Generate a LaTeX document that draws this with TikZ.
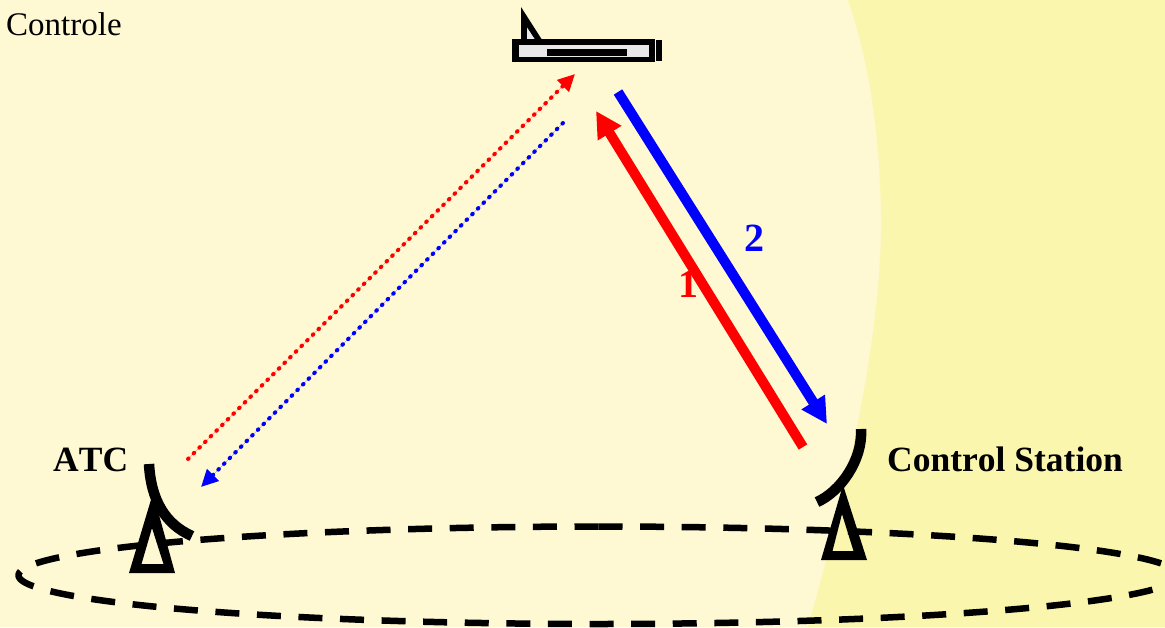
\documentclass[tikz,border=0pt]{standalone}
\usepackage{fontspec}
\setmainfont[Kerning=Off]{Liberation Serif}
\usetikzlibrary{arrows.meta}
\definecolor{bglight}{HTML}{FEF8D3}
\definecolor{bgdark}{HTML}{FBF6AD}
\definecolor{planegray}{HTML}{E8E8E8}
\tikzset{
  solidlink/.style={line width=10pt,-{Triangle[length=26pt,width=26pt]}},
  dotlink/.style={line width=4pt,line cap=round,dash pattern=on 0.8pt off 7.2pt},
  dottip/.style={-{Triangle[length=17pt,width=16pt]}},
  labelbold/.style={inner sep=0pt,anchor=base west,font=\fontsize{35.5pt}{40pt}\selectfont\bfseries},
  labelplain/.style={inner sep=0pt,anchor=base west,font=\fontsize{33pt}{38pt}\selectfont},
  numlabel/.style={inner sep=0pt,font=\fontsize{40pt}{44pt}\selectfont\bfseries},
  dish/.style={line width=10.5pt,draw=black},
  orbit/.style={line width=6.5pt,draw=black,dash pattern=on 24pt off 17.6pt}
}
\begin{document}
\begin{tikzpicture}[x=1pt,y=-1pt]
\useasboundingbox (0,0) rectangle (1165,627);
\begin{scope}
\clip (0,0) rectangle (1165,627);
\fill[bglight] (0,0) rectangle (1165,627);
\fill[bgdark] (848,0) .. controls (872,70) and (881,150) .. (881,225)
  .. controls (881,330) and (850,480) .. (808,627) -- (1165,627) -- (1165,0) -- cycle;
\draw[orbit] plot[domain=270:5,samples=400,smooth] ({598.5+580*cos(\x)},{575.25+48.75*sin(\x)});
\draw[orbit] plot[domain=270:360,samples=200,smooth] ({598.5+580*cos(\x)},{575.25+48.75*sin(\x)});
\end{scope}
% aircraft
\fill[black,even odd rule] (521,7) -- (541.5,39) -- (521,39) -- cycle (527,27.5) -- (534.5,39) -- (527,39) -- cycle;
\fill[planegray] (527,27.5) -- (534.5,39) -- (527,39) -- cycle;
\fill[black] (512,39) rectangle (655,62);
\fill[planegray] (518.5,45) rectangle (649,56.5);
\fill[black] (547,48.5) rectangle (627,55.5);
\fill[black] (656,39.5) rectangle (662,61);
% ATC antenna
\fill[black,even odd rule] (153,493) -- (175,573) -- (129,573) -- cycle (152,528) -- (163.5,564) -- (141.5,564) -- cycle;
\draw[dish] (149,464) .. controls (151,500) and (165,524) .. (192,536);
% Control station antenna
\fill[black,even odd rule] (843,485) -- (867,560) -- (821,560) -- cycle (842,514) -- (853.5,551) -- (832.5,551) -- cycle;
\draw[dish] (861,429) .. controls (863,460) and (840,492) .. (817,502);
% labels
\node[labelplain] (ctrl) at (6,35) {Controle};
\node[labelbold] (atc) at (53,471) {ATC};
\node[labelbold] (station) at (887,471) {Control Station};
\node[numlabel,text=blue] (two) at (754.5,238) {2};
\node[numlabel,text=red] (one) at (688,284) {1};
% connectors
\coordinate (redA) at (803,447);
\coordinate (redB) at (596,111);
\coordinate (blueA) at (618,92);
\coordinate (blueB) at (827,424);
\coordinate (dotrA) at (188,459);
\coordinate (dotrB) at (575,74);
\coordinate (dotbA) at (563,123);
\coordinate (dotbB) at (201,487);
\draw[solidlink,draw=red,fill=red] (redA) -- (redB);
\draw[solidlink,draw=blue,fill=blue] (blueA) -- (blueB);
\draw[dotlink,draw=red,fill=red,dottip] (dotrA) -- (dotrB);
\draw[dotlink,draw=blue,fill=blue,dottip] (dotbA) -- (dotbB);
\end{tikzpicture}
\end{document}
